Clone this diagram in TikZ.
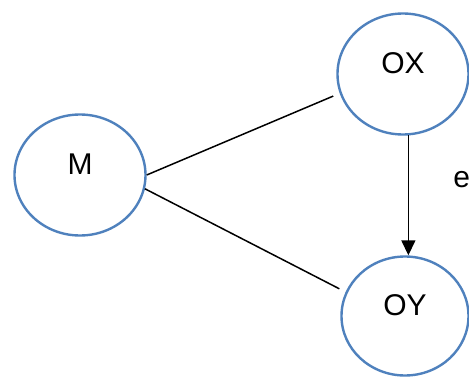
\documentclass[tikz,border=0pt]{standalone}
\usepackage{fontspec}
\setmainfont{Liberation Sans}
\usetikzlibrary{arrows.meta,shapes.geometric,positioning}
\definecolor{ovalblue}{RGB}{79,129,189}

\begin{document}
\begin{tikzpicture}[x=1pt,y=1pt]
\tikzstyle{oval}=[ellipse,draw=ovalblue,line width=2.4pt,minimum width=131pt,
  minimum height=121pt,inner sep=0pt,text height=22pt,text depth=24pt]
\tikzstyle{link}=[line width=1.5pt,shorten >=7pt]
\tikzstyle{arrow}=[line width=1.5pt,-{Triangle[length=15pt,width=14pt]}]
\tikzstyle{every node}=[font=\fontsize{30}{36}\selectfont]

\useasboundingbox (0,0) rectangle (469,376);

%the three ovals
\node[oval] (m) at (80,201) {M};
\node[oval] (ox) at (403,302) {OX};
\node[oval,minimum width=127pt,minimum height=119pt] (oy) at (405,60) {OY};

%links from M
\draw[link] (m.east) -- (ox.197);
\draw[link] (m.-12) -- (oy.158);

%arrow from OX down to OY
\draw[arrow] (ox.-85) -- (ox.-85 |- oy.north) node[pos=.37,right=41pt] {e};
\end{tikzpicture}
\end{document}
